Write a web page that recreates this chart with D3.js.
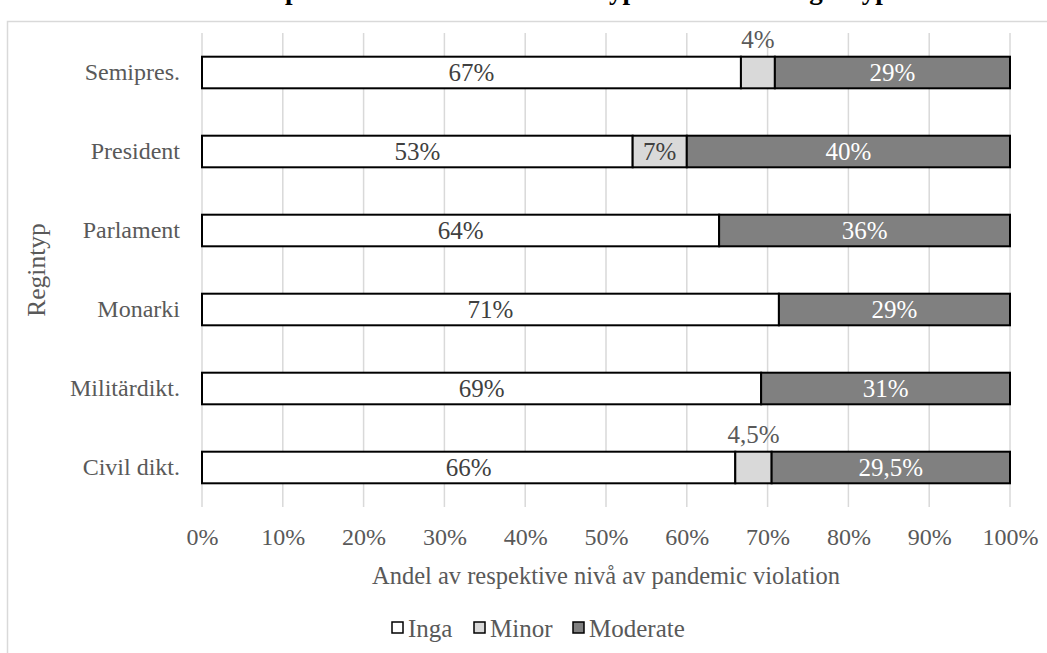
<!DOCTYPE html>
<html>
<head>
<meta charset="utf-8">
<script src="https://cdn.jsdelivr.net/npm/d3@7"></script>
<style>
  html, body { margin: 0; padding: 0; background: #fff; }
  svg { display: block; }
  text { font-family: "Liberation Serif", "Times New Roman", serif; }
</style>
</head>
<body>
<svg id="chart" width="1047" height="653"></svg>
<script>
// ---- data ----
const categories = ["Semipres.", "President", "Parlament", "Monarki", "Militärdikt.", "Civil dikt."];
const seriesNames = ["Inga", "Minor", "Moderate"];
const ingaValues     = [66.7, 53.3, 64.0, 71.4, 69.2, 66.0];
const minorValues    = [4.2, 6.7, 0, 0, 0, 4.5];
const moderateValues = [29.1, 40.0, 36.0, 28.6, 30.8, 29.5];
const ingaLabels     = ["67%", "53%", "64%", "71%", "69%", "66%"];
const minorLabels    = ["4%", "7%", "", "", "", "4,5%"];
const moderateLabels = ["29%", "40%", "36%", "29%", "31%", "29,5%"];
const xTicks = [0, 10, 20, 30, 40, 50, 60, 70, 80, 90, 100];
const titleText = "Andel pandemic violation utifrån typ av nationell regimtyp";
const xTitle = "Andel av respektive nivå av pandemic violation";
const yTitle = "Regintyp";

const FONT = "'Liberation Serif', 'Times New Roman', serif";
const colors = ["#ffffff", "#d9d9d9", "#808080"];
const labelColors = ["#404040", "#404040", "#ffffff"];

const svg = d3.select("#chart");
const W = 1047, H = 653;
const margin = { left: 202, right: 37, top: 33, bottom: 146 };
const plotW = W - margin.left - margin.right;
const plotH = H - margin.top - margin.bottom;

// outer chart border
svg.append("rect").attr("x", 7.5).attr("y", 21.5).attr("width", 1100).attr("height", 700)
  .attr("fill", "none").attr("stroke", "#d9d9d9").attr("stroke-width", 1.5);

// title (clipped at the top edge, as in the reference)
const title = svg.append("text").attr("x", 0).attr("y", -1).attr("text-anchor", "start")
  .attr("font-family", FONT)
  .attr("font-size", 28).attr("font-weight", "bold").attr("fill", "#000").text(titleText);
(function fitTitle() {
  const node = title.node();
  const iP = titleText.indexOf("pandemic");
  const iY = titleText.lastIndexOf("yp");
  const a = node.getSubStringLength(0, iP);
  const b = node.getSubStringLength(0, iY);
  const fs = 28 * (862 - 285) / (b - a);
  title.attr("font-size", fs);
  const a2 = node.getSubStringLength(0, iP);
  title.attr("x", 285 - a2);
})();

const x = d3.scaleLinear().domain([0, 100]).range([margin.left, margin.left + plotW]);
const y = d3.scaleBand().domain(categories).range([margin.top, margin.top + plotH])
  .paddingInner(0.6).paddingOuter(0.3);

// gridlines
svg.append("g").selectAll("line").data(xTicks).join("line")
  .attr("x1", d => x(d)).attr("x2", d => x(d))
  .attr("y1", margin.top).attr("y2", margin.top + plotH)
  .attr("stroke", "#d9d9d9").attr("stroke-width", 1.5);

// x axis tick labels
const xAxis = d3.axisBottom(x).tickValues(xTicks).tickFormat(d => d + "%").tickSize(0).tickPadding(0);
const gx = svg.append("g").attr("transform", `translate(0,${margin.top + plotH + 21})`).call(xAxis);
gx.attr("font-family", FONT);
gx.select(".domain").remove();
gx.selectAll("text").attr("font-size", 24).attr("fill", "#595959").attr("font-family", FONT);

// y axis labels
const yAxis = d3.axisLeft(y).tickSize(0).tickPadding(22);
const gy = svg.append("g").attr("transform", `translate(${margin.left},0)`).call(yAxis);
gy.attr("font-family", FONT);
gy.select(".domain").remove();
gy.selectAll("text").attr("font-size", 24).attr("fill", "#595959").attr("font-family", FONT);

// stacked data
const rows = categories.map((c, i) => ({
  cat: c, Inga: ingaValues[i], Minor: minorValues[i], Moderate: moderateValues[i],
  labels: [ingaLabels[i], minorLabels[i], moderateLabels[i]]
}));
const stack = d3.stack().keys(seriesNames)(rows);

const gBars = svg.append("g");
stack.forEach((layer, si) => {
  gBars.selectAll(null).data(layer.filter(d => d[1] - d[0] > 0)).join("rect")
    .attr("x", d => x(d[0])).attr("width", d => x(d[1]) - x(d[0]))
    .attr("y", d => y(d.data.cat)).attr("height", y.bandwidth())
    .attr("fill", colors[si]).attr("stroke", "#000").attr("stroke-width", 2);
});

// labels
stack.forEach((layer, si) => {
  layer.forEach(d => {
    const lab = d.data.labels[si];
    if (!lab) return;
    const segW = x(d[1]) - x(d[0]);
    const cx = (x(d[0]) + x(d[1])) / 2;
    let cy = y(d.data.cat) + y.bandwidth() / 2;
    let fill = labelColors[si];
    if (segW < 45) { cy = y(d.data.cat) - 17; fill = "#595959"; }
    svg.append("text").attr("x", cx).attr("y", cy).attr("dy", "0.35em")
      .attr("font-family", FONT)
      .attr("text-anchor", "middle").attr("font-size", 25).attr("fill", fill).text(lab);
  });
});

// axis titles
svg.append("text").attr("x", x(50)).attr("y", 584).attr("text-anchor", "middle")
  .attr("font-family", FONT)
  .attr("font-size", 24.5).attr("fill", "#595959").text(xTitle);
svg.append("text").attr("transform", `translate(45,${margin.top + plotH / 2}) rotate(-90)`)
  .attr("font-family", FONT)
  .attr("text-anchor", "middle").attr("font-size", 25.5).attr("fill", "#595959").text(yTitle);

// legend
const legend = svg.append("g").attr("transform", "translate(392,628)");
const legX = [0, 82, 181];
seriesNames.forEach((s, i) => {
  const g = legend.append("g").attr("transform", `translate(${legX[i]},0)`);
  g.append("rect").attr("x", 0).attr("y", -6).attr("width", 11).attr("height", 11)
    .attr("fill", colors[i]).attr("stroke", "#000").attr("stroke-width", 1.5);
  g.append("text").attr("x", 16).attr("y", 0).attr("dy", "0.35em")
    .attr("font-family", FONT)
    .attr("font-size", 25).attr("fill", "#595959").text(s);
});
</script>
</body>
</html>
